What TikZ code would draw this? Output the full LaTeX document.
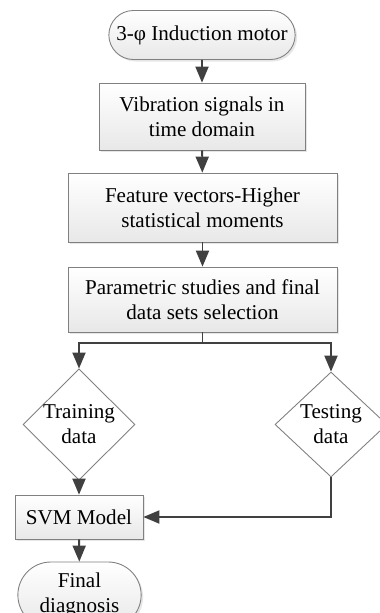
\documentclass[tikz,border=0pt]{standalone}
\usepackage{fontspec}
\setmainfont{Liberation Serif}
\usetikzlibrary{arrows,shapes.geometric,shapes.misc,shadows}
\definecolor{boxline}{HTML}{808080}
\definecolor{boxfill}{HTML}{E8E8E8}
\definecolor{arrowgray}{HTML}{404040}

\begin{document}
\begin{tikzpicture}[->,>=triangle 45,every edge/.style={draw=arrowgray,line width=1.1pt},
  main node/.style={rectangle,draw=boxline,line width=0.5pt,top color=white,bottom color=boxfill,align=center,font=\fontsize{12}{14.3}\selectfont,drop shadow={opacity=0.2,shadow xshift=0.04cm,shadow yshift=-0.04cm}},
  end node/.style={main node,rounded rectangle},
  data node/.style={diamond,draw=boxline,line width=0.5pt,fill=white,align=center,inner sep=0pt,minimum width=2.24cm,minimum height=2.1cm,font=\fontsize{12}{14.3}\selectfont}]
  \useasboundingbox (0,0) rectangle (7.58,-12.26);
  \node[end node,minimum width=3.96cm,minimum height=0.98cm] (1) at (4.04,-0.70) {3-φ Induction motor};
  \node[main node,minimum width=4.12cm,minimum height=1.34cm] (2) at (4.04,-2.33) {Vibration signals in\\time domain};
  \node[main node,minimum width=5.38cm,minimum height=1.38cm] (3) at (4.05,-4.15) {Feature vectors-Higher\\statistical moments};
  \node[main node,minimum width=5.38cm,minimum height=1.30cm] (4) at (4.05,-5.99) {Parametric studies and final\\data sets selection};
  \coordinate (s) at (4.05,-6.86);
  \node[data node] (5) at (1.58,-8.49) {Training\\data};
  \node[data node] (6) at (6.62,-8.49) {Testing\\data};
  \node[main node,minimum width=2.56cm,minimum height=0.88cm] (7) at (1.58,-10.34) {SVM Model};
  \node[end node,minimum width=2.7cm,minimum height=1.32cm] (8) at (1.59,-11.9) {Final\\diagnosis};

\path
  (1) edge (2)
  (2) edge (3)
  (3) edge (4)
  (4) edge[-] (s)
  (s) edge[to path={-| (\tikztotarget)}] (5)
  (s) edge[to path={-| (\tikztotarget)}] (6)
  (5) edge (7)
  (6) edge[to path={|- (\tikztotarget)}] (7)
  (7) edge (8)
;
\end{tikzpicture}
\end{document}
